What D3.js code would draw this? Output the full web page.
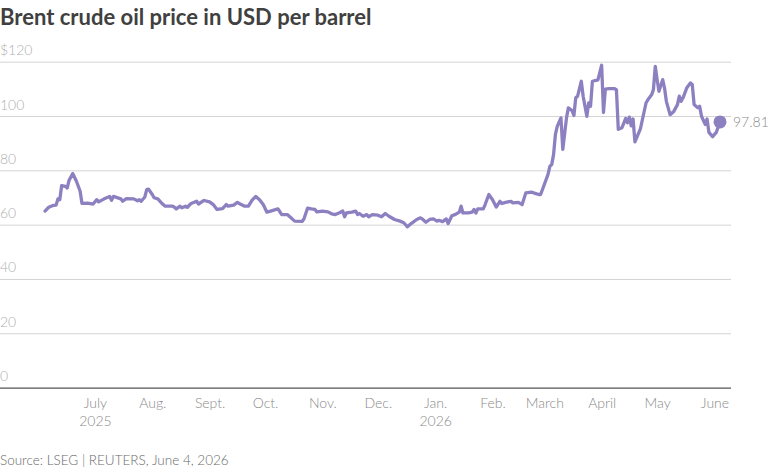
<!DOCTYPE html>
<html>
<head>
<meta charset="utf-8">
<script src="https://cdn.jsdelivr.net/npm/d3@7"></script>
<style>
  body { margin: 0; background: #fff; }
  text { font-family: Lato, "Open Sans", sans-serif; }
</style>
</head>
<body>
<script>
// Brent daily closes
const dates = [
  "2025-06-04","2025-06-06","2025-06-08","2025-06-10","2025-06-11","2025-06-12","2025-06-13","2025-06-15",
  "2025-06-16","2025-06-17","2025-06-19","2025-06-21","2025-06-23","2025-06-24","2025-06-27","2025-06-30",
  "2025-07-02","2025-07-03","2025-07-06","2025-07-09","2025-07-10","2025-07-11","2025-07-15","2025-07-16",
  "2025-07-18","2025-07-22","2025-07-24","2025-07-25","2025-07-26","2025-07-28","2025-07-29","2025-07-30",
  "2025-08-01","2025-08-02","2025-08-04","2025-08-06","2025-08-08","2025-08-12","2025-08-13","2025-08-14",
  "2025-08-16","2025-08-17","2025-08-19","2025-08-20","2025-08-22","2025-08-25","2025-08-26","2025-08-29",
  "2025-09-01","2025-09-03","2025-09-05","2025-09-08","2025-09-10","2025-09-11","2025-09-14","2025-09-16",
  "2025-09-17","2025-09-20","2025-09-22","2025-09-24","2025-09-26","2025-09-28","2025-09-30","2025-10-02",
  "2025-10-04","2025-10-07","2025-10-08","2025-10-10","2025-10-13","2025-10-15","2025-10-17","2025-10-21",
  "2025-10-22","2025-10-24","2025-10-26","2025-10-28","2025-10-29","2025-11-01","2025-11-04","2025-11-06",
  "2025-11-08","2025-11-10","2025-11-12","2025-11-13","2025-11-14","2025-11-17","2025-11-19","2025-11-20",
  "2025-11-21","2025-11-23","2025-11-25","2025-11-26","2025-11-28","2025-12-01","2025-12-03","2025-12-05",
  "2025-12-07","2025-12-10","2025-12-13","2025-12-15","2025-12-17","2025-12-19","2025-12-22","2025-12-24",
  "2025-12-25","2025-12-27","2025-12-29","2025-12-31","2026-01-02","2026-01-03","2026-01-05","2026-01-07",
  "2026-01-08","2026-01-10","2026-01-12","2026-01-14","2026-01-15","2026-01-16","2026-01-19","2026-01-21",
  "2026-01-22","2026-01-23","2026-01-24","2026-01-27","2026-01-28","2026-01-30","2026-02-01","2026-02-03",
  "2026-02-05","2026-02-06","2026-02-08","2026-02-11","2026-02-12","2026-02-15","2026-02-17","2026-02-19",
  "2026-02-22","2026-02-24","2026-02-26","2026-02-27","2026-03-01","2026-03-03","2026-03-04","2026-03-05",
  "2026-03-06","2026-03-07","2026-03-08","2026-03-10","2026-03-11","2026-03-13","2026-03-14","2026-03-16",
  "2026-03-17","2026-03-18","2026-03-19","2026-03-21","2026-03-22","2026-03-24","2026-03-25","2026-03-26",
  "2026-03-27","2026-03-29","2026-03-30","2026-04-01","2026-04-02","2026-04-03","2026-04-05","2026-04-08",
  "2026-04-09","2026-04-10","2026-04-12","2026-04-14","2026-04-15","2026-04-16","2026-04-17","2026-04-18",
  "2026-04-19","2026-04-22","2026-04-25","2026-04-26","2026-04-28","2026-04-29","2026-04-30","2026-05-01",
  "2026-05-02","2026-05-04","2026-05-05","2026-05-06","2026-05-08","2026-05-10","2026-05-12","2026-05-13",
  "2026-05-14","2026-05-15","2026-05-17","2026-05-19","2026-05-20","2026-05-21","2026-05-23","2026-05-24",
  "2026-05-25","2026-05-27","2026-05-28","2026-05-29","2026-05-31","2026-06-02","2026-06-04"
];
const prices = [
  65.0,66.4,67.0,67.2,69.5,69.2,74.4,74.1,
  73.5,76.3,78.8,76.0,72.3,67.8,67.9,67.6,
  69.2,68.4,69.5,70.4,69.0,70.4,69.5,68.6,
  69.6,69.5,68.8,69.2,68.6,70.2,72.9,73.1,
  71.1,69.9,69.5,68.0,66.8,66.8,66.4,65.8,
  66.8,66.2,66.8,66.4,67.8,68.6,67.6,68.9,
  68.4,67.4,65.6,65.9,67.4,66.8,67.2,68.2,
  67.8,66.8,66.8,69.0,70.4,69.2,67.4,64.6,
  65.0,65.6,65.8,63.7,63.7,62.5,61.3,61.2,
  62.1,66.1,65.8,65.6,64.7,65.0,64.7,64.0,
  63.7,64.3,65.0,62.9,64.3,64.6,65.0,63.7,
  64.1,63.1,63.7,62.9,63.7,63.5,62.9,64.1,
  63.1,61.9,61.3,60.7,59.2,60.4,61.9,62.5,
  62.1,60.9,61.9,62.1,61.3,61.6,61.1,62.1,
  60.4,63.3,63.8,64.6,66.8,64.3,64.3,64.6,
  65.6,64.3,65.8,65.8,67.4,71.1,69.2,66.5,
  68.6,67.8,68.2,68.6,68.0,68.2,67.4,71.7,
  72.0,71.5,71.1,71.1,74.8,78.5,81.5,82.1,
  85.8,93.2,96.2,99.3,87.7,99.3,103.0,102.0,
  100.2,106.7,107.3,112.8,107.3,99.9,104.8,103.6,
  112.8,113.1,113.3,118.7,101.3,109.9,110.1,110.1,
  109.6,95.1,95.7,99.1,97.5,99.6,96.4,98.9,
  90.5,95.4,104.8,106.0,107.8,109.7,118.3,113.4,
  109.1,113.4,110.3,105.4,100.5,101.7,104.2,107.3,
  105.4,106.7,110.3,112.2,111.6,104.2,103.0,103.6,
  99.9,96.9,98.9,94.0,92.4,94.0,97.81
];

const yTicks = [0, 20, 40, 60, 80, 100, 120];
const yTickLabels = ["0", "20", "40", "60", "80", "100", "$120"];
const monthTicks = ["2025-07-01","2025-08-01","2025-09-01","2025-10-01","2025-11-01","2025-12-01",
                    "2026-01-01","2026-02-01","2026-03-01","2026-04-01","2026-05-01","2026-06-01"];
const monthLabels = ["July","Aug.","Sept.","Oct.","Nov.","Dec.","Jan.","Feb.","March","April","May","June"];
const yearLabels = ["2025","","","","","","2026","","","","",""];
const lastLabel = "97.81";

const width = 771, height = 468;
const parse = d3.timeParse("%Y-%m-%d");
const data = dates.map((d, i) => ({ date: parse(d), value: prices[i] }));

const svg = d3.select("body")
    .append("svg")
    .attr("width", width)
    .attr("height", height);

const x = d3.scaleTime()
    .domain([parse("2025-06-04"), parse("2026-06-04")])
    .range([45, 720]);

const y = d3.scaleLinear()
    .domain([0, 120])
    .range([387.6, 61.7]);

// title
svg.append("text")
    .attr("x", 0)
    .attr("y", 25)
    .attr("fill", "#404040")
    .attr("font-size", 22)
    .attr("font-weight", 700)
    .text("Brent crude oil price in USD per barrel");

// gridlines + labels
const yAxis = svg.append("g")
    .call(d3.axisRight(y).tickValues(yTicks).tickSize(731).tickFormat((d, i) => yTickLabels[i]));
yAxis.select(".domain").remove();
yAxis.selectAll(".tick line")
    .attr("stroke", d => d === 0 ? "#555" : "#d4d4d4")
    .attr("stroke-width", d => d === 0 ? 1.3 : 1);
yAxis.selectAll(".tick text")
    .attr("x", 0)
    .attr("dy", -7)
    .attr("text-anchor", "start")
    .attr("fill", "#b0b0b0")
    .attr("font-size", 14)
    .attr("font-weight", 300);

// x axis month labels
const xAxis = svg.append("g")
    .attr("transform", "translate(0,388)")
    .call(d3.axisBottom(x).tickValues(monthTicks.map(parse)).tickSize(0).tickFormat((d, i) => monthLabels[i]));
xAxis.select(".domain").remove();
xAxis.selectAll(".tick text")
    .attr("y", 10)
    .attr("dy", "0.71em")
    .attr("fill", "#8a8a8a")
    .attr("font-size", 14)
    .attr("font-weight", 300);
xAxis.selectAll(".tick")
    .append("text")
    .attr("y", 28)
    .attr("dy", "0.71em")
    .attr("fill", "#8a8a8a")
    .attr("font-size", 14)
    .attr("font-weight", 300)
    .text((d, i) => yearLabels[i]);

// price line
const line = d3.line()
    .x(d => x(d.date))
    .y(d => y(d.value));

svg.append("path")
    .datum(data)
    .attr("fill", "none")
    .attr("stroke", "#8d80c1")
    .attr("stroke-width", 3.3)
    .attr("stroke-linejoin", "round")
    .attr("stroke-linecap", "round")
    .attr("d", line);

const last = data[data.length - 1];
svg.append("circle")
    .attr("cx", x(last.date))
    .attr("cy", y(last.value))
    .attr("r", 6.5)
    .attr("fill", "#8d80c1");

svg.append("text")
    .attr("x", x(last.date) + 13)
    .attr("y", y(last.value))
    .attr("dy", "0.35em")
    .attr("fill", "#8a8a8a")
    .attr("font-size", 14)
    .attr("font-weight", 300)
    .text(lastLabel);

// source
svg.append("text")
    .attr("x", 0)
    .attr("y", 465)
    .attr("fill", "#6a6a6a")
    .attr("font-size", 13.5)
    .attr("font-weight", 300)
    .text("Source: LSEG | REUTERS, June 4, 2026");
</script>
</body>
</html>
